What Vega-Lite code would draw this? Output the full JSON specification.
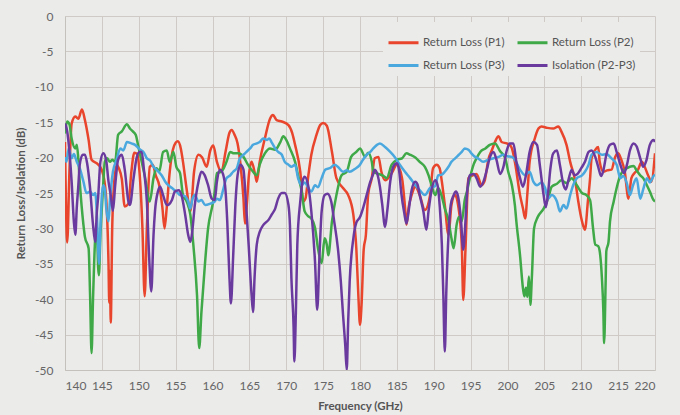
{
  "$schema": "https://vega.github.io/schema/vega-lite/v6.json",
  "width": 590,
  "height": 354,
  "autosize": {"type": "none"},
  "padding": {"left": 65, "top": 16, "right": 25, "bottom": 45},
  "background": "#ebebea",
  "config": {
    "view": {"stroke": null},
    "font": "Lato",
    "axis": {
      "grid": true,
      "gridColor": "#cfcac5",
      "gridWidth": 1,
      "domainColor": "#c4c0bb",
      "ticks": false,
      "labelColor": "#666666",
      "labelFontSize": 12,
      "titleColor": "#555555",
      "titleFontSize": 11.5,
      "titleFontWeight": "bold"
    }
  },
  "data": {
    "values": [
      {"s":"P1","f":140.0,"v":-17.8},{"s":"P1","f":140.3,"v":-32},{"s":"P1","f":140.6,"v":-22},{"s":"P1","f":140.9,"v":-15.2},{"s":"P1","f":141.4,"v":-14.2},{"s":"P1","f":141.8,"v":-14.5},{"s":"P1","f":142.3,"v":-13.2},{"s":"P1","f":142.7,"v":-14.7},{"s":"P1","f":143.2,"v":-17.5},{"s":"P1","f":143.6,"v":-20.3},{"s":"P1","f":144.3,"v":-20.8},{"s":"P1","f":144.7,"v":-21.2},{"s":"P1","f":145.2,"v":-22.5},{"s":"P1","f":145.6,"v":-26},{"s":"P1","f":145.9,"v":-35},{"s":"P1","f":146.0,"v":-40.5},{"s":"P1","f":146.1,"v":-36},{"s":"P1","f":146.2,"v":-43.3},{"s":"P1","f":146.4,"v":-30},{"s":"P1","f":146.6,"v":-24.5},{"s":"P1","f":147.0,"v":-21},{"s":"P1","f":147.3,"v":-21.5},{"s":"P1","f":147.7,"v":-23},{"s":"P1","f":148.1,"v":-26.9},{"s":"P1","f":148.6,"v":-26.5},{"s":"P1","f":149.0,"v":-22},{"s":"P1","f":149.4,"v":-19.3},{"s":"P1","f":149.8,"v":-19.5},{"s":"P1","f":150.1,"v":-22},{"s":"P1","f":150.5,"v":-30},{"s":"P1","f":150.8,"v":-39.6},{"s":"P1","f":151.1,"v":-30},{"s":"P1","f":151.5,"v":-21.3},{"s":"P1","f":151.9,"v":-21},{"s":"P1","f":152.3,"v":-22.5},{"s":"P1","f":152.8,"v":-24},{"s":"P1","f":153.2,"v":-27},{"s":"P1","f":153.5,"v":-30},{"s":"P1","f":153.8,"v":-27},{"s":"P1","f":154.2,"v":-22},{"s":"P1","f":154.6,"v":-19},{"s":"P1","f":155.0,"v":-17.9},{"s":"P1","f":155.3,"v":-17.7},{"s":"P1","f":155.7,"v":-18.7},{"s":"P1","f":156.0,"v":-20.6},{"s":"P1","f":156.5,"v":-24.5},{"s":"P1","f":157.0,"v":-27.6},{"s":"P1","f":157.2,"v":-26},{"s":"P1","f":157.5,"v":-22},{"s":"P1","f":158.1,"v":-19.6},{"s":"P1","f":158.6,"v":-20},{"s":"P1","f":159.2,"v":-21.3},{"s":"P1","f":159.7,"v":-19},{"s":"P1","f":160.1,"v":-18.3},{"s":"P1","f":160.6,"v":-20.6},{"s":"P1","f":161.2,"v":-22},{"s":"P1","f":161.8,"v":-19},{"s":"P1","f":162.3,"v":-16.5},{"s":"P1","f":162.6,"v":-16.1},{"s":"P1","f":163.0,"v":-16.8},{"s":"P1","f":163.4,"v":-18},{"s":"P1","f":163.8,"v":-21},{"s":"P1","f":164.2,"v":-25.8},{"s":"P1","f":164.4,"v":-29.3},{"s":"P1","f":164.7,"v":-26},{"s":"P1","f":164.9,"v":-22.9},{"s":"P1","f":165.3,"v":-20.6},{"s":"P1","f":165.8,"v":-22.5},{"s":"P1","f":166.0,"v":-23.4},{"s":"P1","f":166.4,"v":-20.6},{"s":"P1","f":167.1,"v":-17.3},{"s":"P1","f":167.8,"v":-14.5},{"s":"P1","f":168.2,"v":-14},{"s":"P1","f":168.7,"v":-14.7},{"s":"P1","f":169.4,"v":-14.9},{"s":"P1","f":170.3,"v":-15.4},{"s":"P1","f":170.8,"v":-16.5},{"s":"P1","f":171.2,"v":-18.2},{"s":"P1","f":171.9,"v":-22},{"s":"P1","f":172.3,"v":-26.2},{"s":"P1","f":172.6,"v":-25.8},{"s":"P1","f":173.0,"v":-22.5},{"s":"P1","f":173.4,"v":-19.6},{"s":"P1","f":174.1,"v":-16.8},{"s":"P1","f":174.6,"v":-15.4},{"s":"P1","f":175.0,"v":-15.1},{"s":"P1","f":175.5,"v":-15.5},{"s":"P1","f":176.2,"v":-19.2},{"s":"P1","f":176.8,"v":-22.9},{"s":"P1","f":177.7,"v":-24.3},{"s":"P1","f":178.4,"v":-25.3},{"s":"P1","f":179.1,"v":-28.1},{"s":"P1","f":179.5,"v":-32.8},{"s":"P1","f":179.8,"v":-40},{"s":"P1","f":180.0,"v":-43.6},{"s":"P1","f":180.2,"v":-41},{"s":"P1","f":180.5,"v":-33},{"s":"P1","f":180.8,"v":-30.9},{"s":"P1","f":181.1,"v":-25.3},{"s":"P1","f":181.6,"v":-22.9},{"s":"P1","f":182.0,"v":-20.1},{"s":"P1","f":182.5,"v":-19.9},{"s":"P1","f":182.9,"v":-22},{"s":"P1","f":183.4,"v":-23.2},{"s":"P1","f":184.3,"v":-22.2},{"s":"P1","f":185.0,"v":-21},{"s":"P1","f":185.7,"v":-22.9},{"s":"P1","f":186.1,"v":-27},{"s":"P1","f":186.3,"v":-29.5},{"s":"P1","f":186.6,"v":-27},{"s":"P1","f":187.0,"v":-25.3},{"s":"P1","f":187.5,"v":-24.1},{"s":"P1","f":188.1,"v":-25.3},{"s":"P1","f":188.8,"v":-27.4},{"s":"P1","f":189.5,"v":-25.3},{"s":"P1","f":189.9,"v":-21.5},{"s":"P1","f":190.4,"v":-21},{"s":"P1","f":190.8,"v":-21.5},{"s":"P1","f":191.1,"v":-23.4},{"s":"P1","f":191.5,"v":-26.7},{"s":"P1","f":192.0,"v":-30.9},{"s":"P1","f":192.4,"v":-26.7},{"s":"P1","f":192.9,"v":-25.3},{"s":"P1","f":193.3,"v":-26.7},{"s":"P1","f":193.8,"v":-32.3},{"s":"P1","f":194.0,"v":-40.1},{"s":"P1","f":194.3,"v":-33},{"s":"P1","f":194.7,"v":-22.9},{"s":"P1","f":195.1,"v":-22.6},{"s":"P1","f":195.8,"v":-22.3},{"s":"P1","f":196.5,"v":-23.9},{"s":"P1","f":196.9,"v":-23.3},{"s":"P1","f":197.4,"v":-20.3},{"s":"P1","f":197.9,"v":-18.9},{"s":"P1","f":198.3,"v":-17.8},{"s":"P1","f":198.8,"v":-17},{"s":"P1","f":199.2,"v":-17.8},{"s":"P1","f":199.9,"v":-18},{"s":"P1","f":200.3,"v":-18.2},{"s":"P1","f":200.6,"v":-18.7},{"s":"P1","f":201.0,"v":-20.6},{"s":"P1","f":201.7,"v":-25.3},{"s":"P1","f":202.1,"v":-27.2},{"s":"P1","f":202.4,"v":-28.6},{"s":"P1","f":202.7,"v":-25},{"s":"P1","f":203.0,"v":-20.6},{"s":"P1","f":203.7,"v":-17.3},{"s":"P1","f":204.2,"v":-15.9},{"s":"P1","f":204.6,"v":-15.6},{"s":"P1","f":205.4,"v":-15.8},{"s":"P1","f":206.2,"v":-15.9},{"s":"P1","f":206.9,"v":-15.6},{"s":"P1","f":207.3,"v":-16.3},{"s":"P1","f":208.0,"v":-18.2},{"s":"P1","f":208.5,"v":-20.6},{"s":"P1","f":209.2,"v":-23.4},{"s":"P1","f":209.6,"v":-26.2},{"s":"P1","f":210.1,"v":-29},{"s":"P1","f":210.5,"v":-30.2},{"s":"P1","f":210.9,"v":-26.2},{"s":"P1","f":211.2,"v":-22.9},{"s":"P1","f":211.4,"v":-20.1},{"s":"P1","f":211.9,"v":-18.9},{"s":"P1","f":212.3,"v":-18.5},{"s":"P1","f":212.5,"v":-20.6},{"s":"P1","f":213.0,"v":-22},{"s":"P1","f":213.5,"v":-21.8},{"s":"P1","f":214.1,"v":-21.7},{"s":"P1","f":214.6,"v":-19.9},{"s":"P1","f":215.0,"v":-19.4},{"s":"P1","f":215.4,"v":-20.2},{"s":"P1","f":215.9,"v":-22},{"s":"P1","f":216.4,"v":-25.8},{"s":"P1","f":216.8,"v":-22.9},{"s":"P1","f":217.2,"v":-22.2},{"s":"P1","f":217.7,"v":-21.7},{"s":"P1","f":218.2,"v":-20.6},{"s":"P1","f":218.6,"v":-21.3},{"s":"P1","f":219.1,"v":-22.6},{"s":"P1","f":219.5,"v":-23.4},{"s":"P1","f":220.0,"v":-19.4},

      {"s":"P2","f":140.0,"v":-16.6},{"s":"P2","f":140.3,"v":-14.9},{"s":"P2","f":140.6,"v":-15.3},{"s":"P2","f":140.9,"v":-17.3},{"s":"P2","f":141.4,"v":-18.7},{"s":"P2","f":141.6,"v":-18.2},{"s":"P2","f":141.8,"v":-20.1},{"s":"P2","f":142.0,"v":-23.4},{"s":"P2","f":142.5,"v":-29.5},{"s":"P2","f":142.7,"v":-31.2},{"s":"P2","f":143.2,"v":-32.8},{"s":"P2","f":143.4,"v":-39.4},{"s":"P2","f":143.6,"v":-47.6},{"s":"P2","f":143.8,"v":-40},{"s":"P2","f":144.1,"v":-31.2},{"s":"P2","f":144.3,"v":-29.5},{"s":"P2","f":144.5,"v":-35.6},{"s":"P2","f":144.6,"v":-36.6},{"s":"P2","f":144.8,"v":-31},{"s":"P2","f":145.1,"v":-25.3},{"s":"P2","f":145.4,"v":-20.6},{"s":"P2","f":145.7,"v":-20.1},{"s":"P2","f":146.1,"v":-20.6},{"s":"P2","f":146.4,"v":-20.3},{"s":"P2","f":146.8,"v":-20.6},{"s":"P2","f":147.2,"v":-16.8},{"s":"P2","f":147.7,"v":-16.3},{"s":"P2","f":148.4,"v":-15.3},{"s":"P2","f":148.8,"v":-15.9},{"s":"P2","f":149.2,"v":-16.3},{"s":"P2","f":149.6,"v":-16.8},{"s":"P2","f":149.9,"v":-18.2},{"s":"P2","f":150.4,"v":-20.6},{"s":"P2","f":150.8,"v":-22.5},{"s":"P2","f":151.5,"v":-26.2},{"s":"P2","f":152.0,"v":-22.9},{"s":"P2","f":152.4,"v":-21.5},{"s":"P2","f":152.8,"v":-21.9},{"s":"P2","f":153.3,"v":-19.2},{"s":"P2","f":153.8,"v":-19},{"s":"P2","f":154.2,"v":-20.6},{"s":"P2","f":154.7,"v":-19.2},{"s":"P2","f":155.1,"v":-21.3},{"s":"P2","f":155.6,"v":-22.2},{"s":"P2","f":156.0,"v":-25.3},{"s":"P2","f":156.5,"v":-26.2},{"s":"P2","f":157.0,"v":-28.1},{"s":"P2","f":157.4,"v":-32.3},{"s":"P2","f":157.9,"v":-39.4},{"s":"P2","f":158.2,"v":-46.9},{"s":"P2","f":158.5,"v":-41.8},{"s":"P2","f":159.0,"v":-34.7},{"s":"P2","f":159.4,"v":-30},{"s":"P2","f":160.0,"v":-26.7},{"s":"P2","f":160.3,"v":-24.8},{"s":"P2","f":160.6,"v":-22.2},{"s":"P2","f":161.2,"v":-22},{"s":"P2","f":161.9,"v":-20.6},{"s":"P2","f":162.4,"v":-19.2},{"s":"P2","f":162.9,"v":-19.4},{"s":"P2","f":163.5,"v":-19.4},{"s":"P2","f":164.2,"v":-19.9},{"s":"P2","f":164.8,"v":-21},{"s":"P2","f":165.5,"v":-22},{"s":"P2","f":166.0,"v":-22.5},{"s":"P2","f":166.4,"v":-21},{"s":"P2","f":167.1,"v":-19.4},{"s":"P2","f":167.8,"v":-18.7},{"s":"P2","f":168.5,"v":-18.9},{"s":"P2","f":169.2,"v":-17.8},{"s":"P2","f":169.6,"v":-17},{"s":"P2","f":170.0,"v":-17.5},{"s":"P2","f":170.5,"v":-18.7},{"s":"P2","f":171.2,"v":-20.6},{"s":"P2","f":171.6,"v":-22.5},{"s":"P2","f":172.1,"v":-24.8},{"s":"P2","f":172.5,"v":-27.6},{"s":"P2","f":173.0,"v":-28.3},{"s":"P2","f":173.4,"v":-28.6},{"s":"P2","f":173.9,"v":-29.9},{"s":"P2","f":174.3,"v":-32.8},{"s":"P2","f":174.8,"v":-34.9},{"s":"P2","f":175.2,"v":-31.4},{"s":"P2","f":175.5,"v":-32.3},{"s":"P2","f":175.7,"v":-33.8},{"s":"P2","f":176.2,"v":-29},{"s":"P2","f":176.8,"v":-25.3},{"s":"P2","f":177.5,"v":-22.5},{"s":"P2","f":178.2,"v":-22},{"s":"P2","f":178.8,"v":-19.9},{"s":"P2","f":179.5,"v":-19.2},{"s":"P2","f":180.0,"v":-18.7},{"s":"P2","f":180.7,"v":-19.9},{"s":"P2","f":181.1,"v":-19.3},{"s":"P2","f":181.6,"v":-20.6},{"s":"P2","f":181.8,"v":-22},{"s":"P2","f":182.5,"v":-22.3},{"s":"P2","f":183.2,"v":-22.6},{"s":"P2","f":183.6,"v":-22.9},{"s":"P2","f":184.3,"v":-21},{"s":"P2","f":185.0,"v":-20.3},{"s":"P2","f":185.7,"v":-20.1},{"s":"P2","f":186.3,"v":-19.4},{"s":"P2","f":186.8,"v":-19.6},{"s":"P2","f":187.5,"v":-20},{"s":"P2","f":188.1,"v":-20.6},{"s":"P2","f":188.8,"v":-21.3},{"s":"P2","f":189.3,"v":-22.5},{"s":"P2","f":189.7,"v":-23.9},{"s":"P2","f":190.2,"v":-25.3},{"s":"P2","f":190.6,"v":-24.3},{"s":"P2","f":191.1,"v":-25.5},{"s":"P2","f":191.5,"v":-27.2},{"s":"P2","f":192.0,"v":-28.9},{"s":"P2","f":192.4,"v":-31.4},{"s":"P2","f":192.7,"v":-32.8},{"s":"P2","f":193.1,"v":-29.5},{"s":"P2","f":193.4,"v":-28.4},{"s":"P2","f":193.8,"v":-29},{"s":"P2","f":194.2,"v":-26},{"s":"P2","f":194.5,"v":-24.8},{"s":"P2","f":194.9,"v":-22.9},{"s":"P2","f":195.4,"v":-21},{"s":"P2","f":195.8,"v":-20.1},{"s":"P2","f":196.3,"v":-19.2},{"s":"P2","f":197.0,"v":-18.7},{"s":"P2","f":197.6,"v":-18.2},{"s":"P2","f":198.3,"v":-18},{"s":"P2","f":199.0,"v":-19.1},{"s":"P2","f":199.7,"v":-20.1},{"s":"P2","f":200.1,"v":-22},{"s":"P2","f":200.6,"v":-23.9},{"s":"P2","f":201.0,"v":-26.7},{"s":"P2","f":201.2,"v":-29},{"s":"P2","f":201.7,"v":-33.8},{"s":"P2","f":202.1,"v":-38.5},{"s":"P2","f":202.3,"v":-39.6},{"s":"P2","f":202.5,"v":-38.4},{"s":"P2","f":202.7,"v":-39.7},{"s":"P2","f":202.9,"v":-36.8},{"s":"P2","f":203.1,"v":-40.8},{"s":"P2","f":203.3,"v":-37},{"s":"P2","f":203.6,"v":-30},{"s":"P2","f":204.1,"v":-28.4},{"s":"P2","f":204.9,"v":-27.2},{"s":"P2","f":205.5,"v":-25.8},{"s":"P2","f":206.0,"v":-24.1},{"s":"P2","f":206.7,"v":-23.7},{"s":"P2","f":207.3,"v":-23.2},{"s":"P2","f":208.0,"v":-23.6},{"s":"P2","f":208.7,"v":-22.9},{"s":"P2","f":209.4,"v":-23.9},{"s":"P2","f":210.1,"v":-25},{"s":"P2","f":210.7,"v":-25.3},{"s":"P2","f":211.2,"v":-26},{"s":"P2","f":211.6,"v":-30},{"s":"P2","f":211.9,"v":-32.3},{"s":"P2","f":212.3,"v":-32.5},{"s":"P2","f":212.5,"v":-33.2},{"s":"P2","f":212.8,"v":-37},{"s":"P2","f":213.0,"v":-41.8},{"s":"P2","f":213.1,"v":-46.2},{"s":"P2","f":213.3,"v":-38},{"s":"P2","f":213.4,"v":-33.2},{"s":"P2","f":213.7,"v":-31.9},{"s":"P2","f":213.9,"v":-29},{"s":"P2","f":214.4,"v":-26.2},{"s":"P2","f":214.8,"v":-24.3},{"s":"P2","f":215.3,"v":-22.5},{"s":"P2","f":215.9,"v":-21.7},{"s":"P2","f":216.6,"v":-21.3},{"s":"P2","f":217.1,"v":-21.2},{"s":"P2","f":217.5,"v":-21.8},{"s":"P2","f":218.0,"v":-22.5},{"s":"P2","f":218.4,"v":-22.9},{"s":"P2","f":218.9,"v":-23.9},{"s":"P2","f":219.3,"v":-24.8},{"s":"P2","f":219.8,"v":-26},{"s":"P2","f":220.0,"v":-26.2},

      {"s":"P3","f":140.0,"v":-19.9},{"s":"P3","f":140.2,"v":-20.6},{"s":"P3","f":140.5,"v":-18.7},{"s":"P3","f":140.9,"v":-20.1},{"s":"P3","f":141.2,"v":-19.5},{"s":"P3","f":141.6,"v":-20.6},{"s":"P3","f":142.0,"v":-21.5},{"s":"P3","f":142.5,"v":-23.4},{"s":"P3","f":142.9,"v":-25},{"s":"P3","f":143.4,"v":-24.8},{"s":"P3","f":143.8,"v":-25.3},{"s":"P3","f":144.1,"v":-25},{"s":"P3","f":144.3,"v":-27.6},{"s":"P3","f":144.5,"v":-33},{"s":"P3","f":144.6,"v":-35},{"s":"P3","f":144.8,"v":-30},{"s":"P3","f":145.0,"v":-25.3},{"s":"P3","f":145.2,"v":-23.9},{"s":"P3","f":145.4,"v":-24.5},{"s":"P3","f":145.6,"v":-27.2},{"s":"P3","f":145.9,"v":-29},{"s":"P3","f":146.1,"v":-26},{"s":"P3","f":146.5,"v":-22},{"s":"P3","f":147.0,"v":-20.3},{"s":"P3","f":147.5,"v":-18.7},{"s":"P3","f":147.9,"v":-19},{"s":"P3","f":148.4,"v":-17.8},{"s":"P3","f":149.0,"v":-18},{"s":"P3","f":149.5,"v":-18.2},{"s":"P3","f":150.2,"v":-18.9},{"s":"P3","f":150.7,"v":-19.3},{"s":"P3","f":151.1,"v":-20.1},{"s":"P3","f":151.6,"v":-20.5},{"s":"P3","f":152.0,"v":-21.3},{"s":"P3","f":152.4,"v":-21.7},{"s":"P3","f":153.1,"v":-22.5},{"s":"P3","f":153.6,"v":-23.4},{"s":"P3","f":154.0,"v":-23.9},{"s":"P3","f":154.5,"v":-24.3},{"s":"P3","f":155.1,"v":-24.8},{"s":"P3","f":155.6,"v":-25.3},{"s":"P3","f":156.2,"v":-25.4},{"s":"P3","f":156.7,"v":-26.2},{"s":"P3","f":157.0,"v":-27.2},{"s":"P3","f":157.3,"v":-25.8},{"s":"P3","f":157.6,"v":-25.3},{"s":"P3","f":158.1,"v":-26.2},{"s":"P3","f":158.5,"v":-26},{"s":"P3","f":159.0,"v":-26.7},{"s":"P3","f":159.7,"v":-26.5},{"s":"P3","f":160.3,"v":-26.2},{"s":"P3","f":160.6,"v":-25.8},{"s":"P3","f":161.0,"v":-26},{"s":"P3","f":161.5,"v":-24.3},{"s":"P3","f":161.9,"v":-22.9},{"s":"P3","f":162.4,"v":-22.5},{"s":"P3","f":162.8,"v":-22},{"s":"P3","f":163.3,"v":-21.5},{"s":"P3","f":163.7,"v":-20.1},{"s":"P3","f":164.2,"v":-19.6},{"s":"P3","f":164.6,"v":-19.2},{"s":"P3","f":165.1,"v":-18.7},{"s":"P3","f":165.5,"v":-18.2},{"s":"P3","f":166.0,"v":-18},{"s":"P3","f":166.4,"v":-17.8},{"s":"P3","f":166.9,"v":-17.3},{"s":"P3","f":167.4,"v":-17.5},{"s":"P3","f":167.7,"v":-17.3},{"s":"P3","f":168.0,"v":-17.8},{"s":"P3","f":168.5,"v":-18.7},{"s":"P3","f":168.9,"v":-19.2},{"s":"P3","f":169.4,"v":-19.6},{"s":"P3","f":169.8,"v":-20.6},{"s":"P3","f":170.3,"v":-21},{"s":"P3","f":170.7,"v":-21.3},{"s":"P3","f":171.2,"v":-21},{"s":"P3","f":171.6,"v":-22.9},{"s":"P3","f":172.1,"v":-23.9},{"s":"P3","f":172.5,"v":-23.5},{"s":"P3","f":173.0,"v":-24.3},{"s":"P3","f":173.4,"v":-24.8},{"s":"P3","f":173.9,"v":-23.9},{"s":"P3","f":174.3,"v":-24.2},{"s":"P3","f":174.8,"v":-22.9},{"s":"P3","f":175.3,"v":-21.7},{"s":"P3","f":175.9,"v":-21.5},{"s":"P3","f":176.6,"v":-21},{"s":"P3","f":177.0,"v":-21.3},{"s":"P3","f":177.7,"v":-22},{"s":"P3","f":178.2,"v":-21.8},{"s":"P3","f":178.6,"v":-22},{"s":"P3","f":179.3,"v":-21.6},{"s":"P3","f":180.0,"v":-21},{"s":"P3","f":180.4,"v":-20.3},{"s":"P3","f":180.9,"v":-19.6},{"s":"P3","f":181.4,"v":-19.2},{"s":"P3","f":181.8,"v":-18.7},{"s":"P3","f":182.3,"v":-18.2},{"s":"P3","f":182.7,"v":-18},{"s":"P3","f":183.4,"v":-18.5},{"s":"P3","f":184.1,"v":-19.2},{"s":"P3","f":184.7,"v":-19.9},{"s":"P3","f":185.4,"v":-21},{"s":"P3","f":186.1,"v":-22},{"s":"P3","f":186.8,"v":-22.9},{"s":"P3","f":187.5,"v":-23.9},{"s":"P3","f":188.1,"v":-24.6},{"s":"P3","f":188.8,"v":-25.3},{"s":"P3","f":189.5,"v":-24.3},{"s":"P3","f":190.2,"v":-24},{"s":"P3","f":190.6,"v":-22.5},{"s":"P3","f":191.1,"v":-22.4},{"s":"P3","f":191.5,"v":-22},{"s":"P3","f":192.0,"v":-21.3},{"s":"P3","f":192.4,"v":-20.6},{"s":"P3","f":192.9,"v":-20.1},{"s":"P3","f":193.4,"v":-19.6},{"s":"P3","f":193.8,"v":-19.2},{"s":"P3","f":194.2,"v":-18.7},{"s":"P3","f":194.7,"v":-18.9},{"s":"P3","f":195.1,"v":-19.4},{"s":"P3","f":195.6,"v":-19.9},{"s":"P3","f":196.0,"v":-20.1},{"s":"P3","f":196.7,"v":-20.6},{"s":"P3","f":197.4,"v":-20.3},{"s":"P3","f":198.1,"v":-20.1},{"s":"P3","f":198.8,"v":-19.9},{"s":"P3","f":199.4,"v":-19.6},{"s":"P3","f":200.0,"v":-19.8},{"s":"P3","f":200.6,"v":-19.9},{"s":"P3","f":201.0,"v":-20.3},{"s":"P3","f":201.7,"v":-21.7},{"s":"P3","f":202.4,"v":-22.5},{"s":"P3","f":203.0,"v":-22},{"s":"P3","f":203.5,"v":-23.4},{"s":"P3","f":204.0,"v":-23.9},{"s":"P3","f":204.6,"v":-23.5},{"s":"P3","f":205.1,"v":-24.3},{"s":"P3","f":205.5,"v":-25.8},{"s":"P3","f":206.0,"v":-25.3},{"s":"P3","f":206.7,"v":-26.2},{"s":"P3","f":207.1,"v":-27.6},{"s":"P3","f":207.6,"v":-26.7},{"s":"P3","f":208.0,"v":-27.2},{"s":"P3","f":208.5,"v":-25.3},{"s":"P3","f":208.9,"v":-23.9},{"s":"P3","f":209.4,"v":-22.9},{"s":"P3","f":210.1,"v":-22.5},{"s":"P3","f":210.5,"v":-22},{"s":"P3","f":211.0,"v":-21},{"s":"P3","f":211.4,"v":-19.6},{"s":"P3","f":212.1,"v":-19.2},{"s":"P3","f":212.8,"v":-19.6},{"s":"P3","f":213.4,"v":-19.5},{"s":"P3","f":214.1,"v":-20.1},{"s":"P3","f":214.8,"v":-21},{"s":"P3","f":215.3,"v":-22.9},{"s":"P3","f":215.7,"v":-22.6},{"s":"P3","f":216.2,"v":-23.7},{"s":"P3","f":216.6,"v":-25.3},{"s":"P3","f":217.0,"v":-24},{"s":"P3","f":217.5,"v":-22.9},{"s":"P3","f":218.0,"v":-25.8},{"s":"P3","f":218.4,"v":-24.5},{"s":"P3","f":218.9,"v":-22.9},{"s":"P3","f":219.3,"v":-23.5},{"s":"P3","f":219.8,"v":-22.6},{"s":"P3","f":220.0,"v":-22.4},

      {"s":"ISO","f":140.0,"v":-15.2},{"s":"ISO","f":140.3,"v":-16.3},{"s":"ISO","f":140.6,"v":-19.2},{"s":"ISO","f":140.9,"v":-23.4},{"s":"ISO","f":141.2,"v":-29},{"s":"ISO","f":141.4,"v":-30.9},{"s":"ISO","f":141.6,"v":-27},{"s":"ISO","f":141.8,"v":-24.1},{"s":"ISO","f":142.0,"v":-21},{"s":"ISO","f":142.4,"v":-19.6},{"s":"ISO","f":142.7,"v":-19.6},{"s":"ISO","f":143.0,"v":-20.8},{"s":"ISO","f":143.4,"v":-24.3},{"s":"ISO","f":143.8,"v":-29.5},{"s":"ISO","f":144.1,"v":-31.9},{"s":"ISO","f":144.3,"v":-28},{"s":"ISO","f":144.5,"v":-25.5},{"s":"ISO","f":144.8,"v":-20.6},{"s":"ISO","f":145.2,"v":-19.4},{"s":"ISO","f":145.6,"v":-20.5},{"s":"ISO","f":145.9,"v":-23.4},{"s":"ISO","f":146.2,"v":-25.3},{"s":"ISO","f":146.5,"v":-27.5},{"s":"ISO","f":146.8,"v":-24},{"s":"ISO","f":147.2,"v":-20.3},{"s":"ISO","f":147.7,"v":-19.6},{"s":"ISO","f":148.1,"v":-21.7},{"s":"ISO","f":148.6,"v":-26.2},{"s":"ISO","f":148.8,"v":-26.7},{"s":"ISO","f":149.3,"v":-22.9},{"s":"ISO","f":149.7,"v":-20.1},{"s":"ISO","f":150.1,"v":-19.2},{"s":"ISO","f":150.4,"v":-19.2},{"s":"ISO","f":150.7,"v":-21.7},{"s":"ISO","f":151.1,"v":-26.2},{"s":"ISO","f":151.4,"v":-33.8},{"s":"ISO","f":151.7,"v":-38.9},{"s":"ISO","f":152.0,"v":-31},{"s":"ISO","f":152.2,"v":-27.6},{"s":"ISO","f":152.6,"v":-24.8},{"s":"ISO","f":152.9,"v":-24.1},{"s":"ISO","f":153.3,"v":-25.3},{"s":"ISO","f":153.8,"v":-26.7},{"s":"ISO","f":154.1,"v":-26.6},{"s":"ISO","f":154.5,"v":-26},{"s":"ISO","f":154.9,"v":-24.8},{"s":"ISO","f":155.4,"v":-24.6},{"s":"ISO","f":155.8,"v":-25.3},{"s":"ISO","f":156.3,"v":-28.1},{"s":"ISO","f":156.7,"v":-30.9},{"s":"ISO","f":157.0,"v":-31.9},{"s":"ISO","f":157.2,"v":-30.9},{"s":"ISO","f":157.6,"v":-26.7},{"s":"ISO","f":158.1,"v":-23.4},{"s":"ISO","f":158.5,"v":-22},{"s":"ISO","f":158.9,"v":-22.4},{"s":"ISO","f":159.4,"v":-23.9},{"s":"ISO","f":159.9,"v":-25.8},{"s":"ISO","f":160.3,"v":-26},{"s":"ISO","f":160.6,"v":-23.4},{"s":"ISO","f":161.0,"v":-21.7},{"s":"ISO","f":161.3,"v":-22},{"s":"ISO","f":161.7,"v":-23.9},{"s":"ISO","f":162.0,"v":-29},{"s":"ISO","f":162.3,"v":-37},{"s":"ISO","f":162.5,"v":-40.6},{"s":"ISO","f":162.8,"v":-34},{"s":"ISO","f":163.1,"v":-26.7},{"s":"ISO","f":163.4,"v":-22.5},{"s":"ISO","f":163.8,"v":-21},{"s":"ISO","f":164.2,"v":-21.7},{"s":"ISO","f":164.5,"v":-25.8},{"s":"ISO","f":164.9,"v":-32.3},{"s":"ISO","f":165.3,"v":-39.4},{"s":"ISO","f":165.5,"v":-41.8},{"s":"ISO","f":165.7,"v":-37},{"s":"ISO","f":166.0,"v":-32.3},{"s":"ISO","f":166.4,"v":-30.5},{"s":"ISO","f":166.9,"v":-29.5},{"s":"ISO","f":167.6,"v":-28.8},{"s":"ISO","f":168.0,"v":-28.1},{"s":"ISO","f":168.5,"v":-27.2},{"s":"ISO","f":168.9,"v":-25.8},{"s":"ISO","f":169.4,"v":-25},{"s":"ISO","f":169.8,"v":-25},{"s":"ISO","f":170.3,"v":-26.7},{"s":"ISO","f":170.5,"v":-29.5},{"s":"ISO","f":170.7,"v":-37},{"s":"ISO","f":171.0,"v":-44.1},{"s":"ISO","f":171.1,"v":-48.8},{"s":"ISO","f":171.3,"v":-42},{"s":"ISO","f":171.5,"v":-32.3},{"s":"ISO","f":171.9,"v":-26.2},{"s":"ISO","f":172.2,"v":-23.4},{"s":"ISO","f":172.5,"v":-22.7},{"s":"ISO","f":173.0,"v":-24.1},{"s":"ISO","f":173.4,"v":-27.6},{"s":"ISO","f":173.9,"v":-34.7},{"s":"ISO","f":174.2,"v":-41.5},{"s":"ISO","f":174.5,"v":-34},{"s":"ISO","f":174.8,"v":-27.6},{"s":"ISO","f":175.2,"v":-25.3},{"s":"ISO","f":175.6,"v":-25.1},{"s":"ISO","f":176.1,"v":-26.2},{"s":"ISO","f":176.5,"v":-29},{"s":"ISO","f":177.0,"v":-32.8},{"s":"ISO","f":177.4,"v":-37.5},{"s":"ISO","f":177.7,"v":-42.2},{"s":"ISO","f":178.0,"v":-46.5},{"s":"ISO","f":178.2,"v":-50},{"s":"ISO","f":178.4,"v":-43},{"s":"ISO","f":178.6,"v":-37.5},{"s":"ISO","f":179.1,"v":-31.4},{"s":"ISO","f":179.5,"v":-29.2},{"s":"ISO","f":180.0,"v":-28.4},{"s":"ISO","f":180.4,"v":-27.2},{"s":"ISO","f":180.9,"v":-25.3},{"s":"ISO","f":181.4,"v":-23.4},{"s":"ISO","f":181.8,"v":-22.3},{"s":"ISO","f":182.0,"v":-21.7},{"s":"ISO","f":182.4,"v":-22.5},{"s":"ISO","f":182.7,"v":-24.1},{"s":"ISO","f":183.0,"v":-26.5},{"s":"ISO","f":183.4,"v":-29.8},{"s":"ISO","f":183.7,"v":-27.5},{"s":"ISO","f":184.1,"v":-23.4},{"s":"ISO","f":184.5,"v":-21.3},{"s":"ISO","f":185.0,"v":-20.8},{"s":"ISO","f":185.3,"v":-21.8},{"s":"ISO","f":185.6,"v":-25},{"s":"ISO","f":186.0,"v":-27.8},{"s":"ISO","f":186.3,"v":-29.3},{"s":"ISO","f":186.6,"v":-27.5},{"s":"ISO","f":187.0,"v":-24.6},{"s":"ISO","f":187.5,"v":-23.4},{"s":"ISO","f":187.8,"v":-23.8},{"s":"ISO","f":188.1,"v":-25.3},{"s":"ISO","f":188.6,"v":-27.6},{"s":"ISO","f":189.0,"v":-30.2},{"s":"ISO","f":189.3,"v":-27.5},{"s":"ISO","f":189.7,"v":-24.6},{"s":"ISO","f":190.2,"v":-23.2},{"s":"ISO","f":190.5,"v":-23.8},{"s":"ISO","f":190.8,"v":-26.7},{"s":"ISO","f":191.1,"v":-32.3},{"s":"ISO","f":191.3,"v":-39.4},{"s":"ISO","f":191.5,"v":-47.4},{"s":"ISO","f":191.7,"v":-39},{"s":"ISO","f":192.0,"v":-30.9},{"s":"ISO","f":192.3,"v":-26.7},{"s":"ISO","f":192.7,"v":-25.3},{"s":"ISO","f":193.0,"v":-24.8},{"s":"ISO","f":193.3,"v":-25.5},{"s":"ISO","f":193.7,"v":-28.9},{"s":"ISO","f":194.0,"v":-33},{"s":"ISO","f":194.3,"v":-29},{"s":"ISO","f":194.5,"v":-25.3},{"s":"ISO","f":194.9,"v":-22.5},{"s":"ISO","f":195.4,"v":-22.3},{"s":"ISO","f":195.8,"v":-22.9},{"s":"ISO","f":196.3,"v":-24.1},{"s":"ISO","f":196.7,"v":-23.5},{"s":"ISO","f":197.2,"v":-21.7},{"s":"ISO","f":197.6,"v":-20},{"s":"ISO","f":198.1,"v":-19.2},{"s":"ISO","f":198.5,"v":-20.3},{"s":"ISO","f":199.0,"v":-22.3},{"s":"ISO","f":199.4,"v":-21.5},{"s":"ISO","f":199.9,"v":-19},{"s":"ISO","f":200.3,"v":-18},{"s":"ISO","f":200.8,"v":-18},{"s":"ISO","f":201.2,"v":-20.6},{"s":"ISO","f":201.7,"v":-22.9},{"s":"ISO","f":202.1,"v":-24.1},{"s":"ISO","f":202.5,"v":-22.5},{"s":"ISO","f":203.0,"v":-19.2},{"s":"ISO","f":203.5,"v":-17.8},{"s":"ISO","f":204.0,"v":-18.2},{"s":"ISO","f":204.4,"v":-21.2},{"s":"ISO","f":204.9,"v":-25.3},{"s":"ISO","f":205.2,"v":-27},{"s":"ISO","f":205.5,"v":-25},{"s":"ISO","f":205.8,"v":-21.7},{"s":"ISO","f":206.2,"v":-19.4},{"s":"ISO","f":206.7,"v":-19},{"s":"ISO","f":207.1,"v":-21},{"s":"ISO","f":207.6,"v":-23.9},{"s":"ISO","f":207.9,"v":-24.5},{"s":"ISO","f":208.3,"v":-23},{"s":"ISO","f":208.7,"v":-21.7},{"s":"ISO","f":209.1,"v":-22.5},{"s":"ISO","f":209.5,"v":-22.3},{"s":"ISO","f":210.0,"v":-21.5},{"s":"ISO","f":210.5,"v":-20.6},{"s":"ISO","f":211.0,"v":-19.2},{"s":"ISO","f":211.4,"v":-19},{"s":"ISO","f":211.9,"v":-19.9},{"s":"ISO","f":212.3,"v":-21.3},{"s":"ISO","f":212.7,"v":-22.6},{"s":"ISO","f":213.0,"v":-21.8},{"s":"ISO","f":213.4,"v":-19.6},{"s":"ISO","f":213.9,"v":-18.2},{"s":"ISO","f":214.4,"v":-18},{"s":"ISO","f":214.8,"v":-19.2},{"s":"ISO","f":215.3,"v":-21},{"s":"ISO","f":215.8,"v":-22.2},{"s":"ISO","f":216.2,"v":-21},{"s":"ISO","f":216.6,"v":-19},{"s":"ISO","f":217.1,"v":-18},{"s":"ISO","f":217.5,"v":-18.4},{"s":"ISO","f":218.0,"v":-20.1},{"s":"ISO","f":218.4,"v":-21.3},{"s":"ISO","f":218.8,"v":-20.5},{"s":"ISO","f":219.3,"v":-18.2},{"s":"ISO","f":219.8,"v":-17.5},{"s":"ISO","f":220.0,"v":-17.8}
    ]
  },
  "mark": {"type": "line", "strokeWidth": 2.5, "clip": true, "interpolate": "monotone"},
  "encoding": {
    "x": {
      "field": "f", "type": "quantitative",
      "scale": {"domain": [140, 220], "nice": false, "zero": false},
      "axis": {"values": [140,145,150,155,160,165,170,175,180,185,190,195,200,205,210,215,220], "title": "Frequency (GHz)", "labelPadding": 10, "titlePadding": 9, "labelExpr": "toString(datum.value)"}
    },
    "y": {
      "field": "v", "type": "quantitative",
      "scale": {"domain": [-50, 0], "nice": false, "zero": false},
      "axis": {"values": [-50,-45,-40,-35,-30,-25,-20,-15,-10,-5,0], "title": "Return Loss/Isolation (dB)", "labelPadding": 12, "titlePadding": 8, "labelExpr": "toString(datum.value)"}
    },
    "color": {
      "field": "s", "type": "nominal",
      "scale": {"domain": ["P1","P2","P3","ISO"], "range": ["#e8452c","#3fa948","#4aa8df","#6b3a9f"]},
      "legend": {
        "title": null,
        "orient": "none",
        "direction": "horizontal",
        "legendX": 318,
        "legendY": 6,
        "columns": 2,
        "symbolType": "stroke",
        "symbolStrokeWidth": 3,
        "symbolSize": 900,
        "labelFontSize": 11.5,
        "labelColor": "#555555",
        "labelOffset": 3,
        "columnPadding": 6,
        "rowPadding": -9,
        "fillColor": "#ebebea",
        "padding": 4,
        "labelExpr": "datum.value == 'P1' ? 'Return Loss (P1)' : datum.value == 'P2' ? 'Return Loss (P2)' : datum.value == 'P3' ? 'Return Loss (P3)' : 'Isolation (P2-P3)'"
      }
    },
    "order": {"field": "f", "type": "quantitative"}
  }
}
